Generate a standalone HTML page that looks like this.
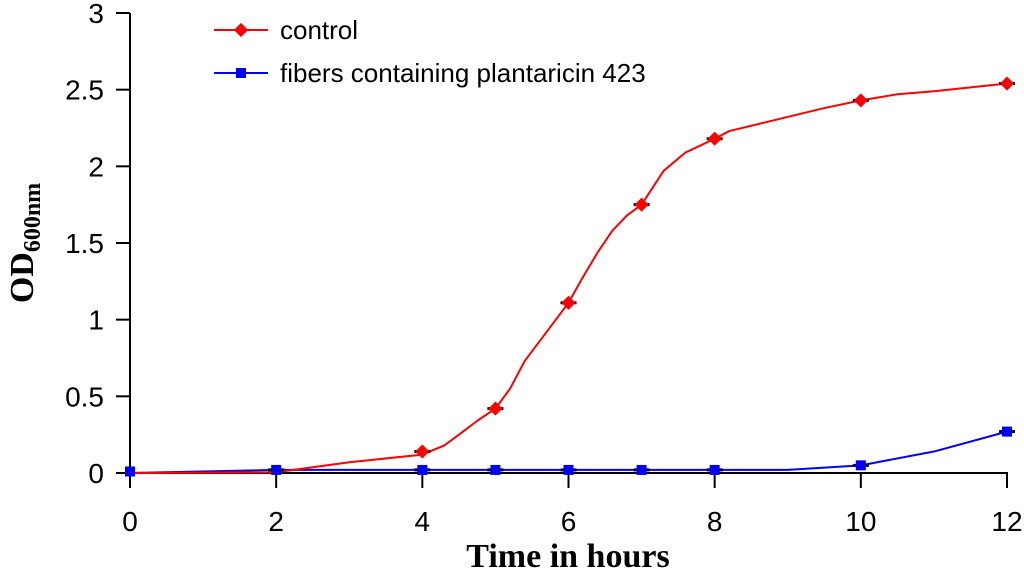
<!DOCTYPE html>
<html><head><meta charset="utf-8"><style>
body{margin:0;background:#fff;width:1024px;height:571px;overflow:hidden}
svg text{font-family:"Liberation Sans",sans-serif}
</style></head><body>
<svg id="chart" width="1024" height="571">
<g id="axes"></g><g id="series"></g>
<g>
<line x1="214" y1="30" x2="268" y2="30" stroke="#ff0000" stroke-width="2"/>
<rect x="236" y="25" width="10" height="10" fill="#ff0000" transform="rotate(45 241 30)"/>
<text x="280" y="39" font-size="26">control</text>
<line x1="214" y1="73" x2="268" y2="73" stroke="#0000ff" stroke-width="2"/>
<rect x="236" y="68" width="10" height="10" fill="#0000ff"/>
<text x="280" y="82" font-size="26">fibers containing plantaricin 423</text>
</g>
<text x="568" y="567" font-size="34" font-weight="bold" text-anchor="middle" style="font-family:'Liberation Serif',serif">Time in hours</text>
<text transform="translate(33,243) rotate(-90)" font-size="34" font-weight="bold" text-anchor="middle" style="font-family:'Liberation Serif',serif">OD<tspan font-size="24" dy="7">600nm</tspan></text>
</svg>
<script>
const xTicks=[0,2,4,6,8,10,12];
const yTicks=[0,0.5,1,1.5,2,2.5,3];
const yTickLabels=["0","0.5","1","1.5","2","2.5","3"];
const redX=[0,2,3,4,4.3,4.5,4.75,5,5.2,5.4,5.7,6,6.2,6.4,6.6,6.8,7,7.3,7.6,8,8.2,9.5,10,10.5,11,12];
const redY=[0,0.005,0.07,0.12,0.18,0.25,0.34,0.42,0.55,0.73,0.92,1.11,1.28,1.44,1.58,1.68,1.75,1.97,2.09,2.18,2.23,2.38,2.43,2.47,2.49,2.54];
const redMarkX=[4,5,6,7,8,10,12];
const redMarkY=[0.14,0.42,1.11,1.75,2.18,2.43,2.54];
const blueX=[0,2,4,5,6,7,8,9,10,11,12];
const blueY=[0,0.02,0.02,0.02,0.02,0.02,0.02,0.02,0.05,0.14,0.27];
const blueMarkX=[0,2,4,5,6,7,8,10,12];
const blueMarkY=[0.01,0.02,0.02,0.02,0.02,0.02,0.02,0.05,0.27];
const sx=v=>130+v*(1007-130)/12;
const sy=v=>473-v*(473-13)/3;
const NS="http://www.w3.org/2000/svg";
function mk(p,t,a){const e=document.createElementNS(NS,t);for(const k in a)e.setAttribute(k,a[k]);p.appendChild(e);return e;}
const ax=document.getElementById('axes'),se=document.getElementById('series');
let l=mk(ax,'line',{x1:130,y1:13,x2:130,y2:473,stroke:'#000','stroke-width':2});


l=mk(ax,'line',{x1:129,y1:473,x2:1008,y2:473,stroke:'#000','stroke-width':2});


xTicks.forEach(v=>{mk(ax,'line',{x1:sx(v),y1:473,x2:sx(v),y2:488,stroke:'#000','stroke-width':2});
const t=mk(ax,'text',{x:sx(v),y:531,'font-size':28,'text-anchor':'middle'});t.textContent=v;

});
yTicks.forEach((v,i)=>{mk(ax,'line',{x1:116,y1:sy(v),x2:130,y2:sy(v),stroke:'#000','stroke-width':2});
const t=mk(ax,'text',{x:104,y:sy(v)+10,'font-size':28,'text-anchor':'end'});t.textContent=yTickLabels[i];

});
function line(xs,ys,c,n){const p=mk(se,'polyline',{points:xs.map((x,i)=>sx(x)+','+sy(ys[i])).join(' '),fill:'none',stroke:c,'stroke-width':2,'stroke-linejoin':'round'});

}
line(blueX,blueY,'#0000ff','fibers-line');
line(redX,redY,'#ff0000','control-line');
function errs(xs,ys){xs.forEach((x,i)=>{const e=mk(se,'line',{x1:sx(x)-8,y1:sy(ys[i]),x2:sx(x)+8,y2:sy(ys[i]),stroke:'#000','stroke-width':3});

});}
errs(redMarkX,redMarkY);errs(blueMarkX.slice(1),blueMarkY.slice(1));
redMarkX.forEach((x,i)=>{const m=mk(se,'rect',{x:sx(x)-5,y:sy(redMarkY[i])-5,width:10,height:10,fill:'#ff0000',transform:`rotate(45 ${sx(x)} ${sy(redMarkY[i])})`});

});
blueMarkX.forEach((x,i)=>{const m=mk(se,'rect',{x:sx(x)-5,y:sy(blueMarkY[i])-5,width:10,height:10,fill:'#0000ff'});

});
</script>
</body></html>
